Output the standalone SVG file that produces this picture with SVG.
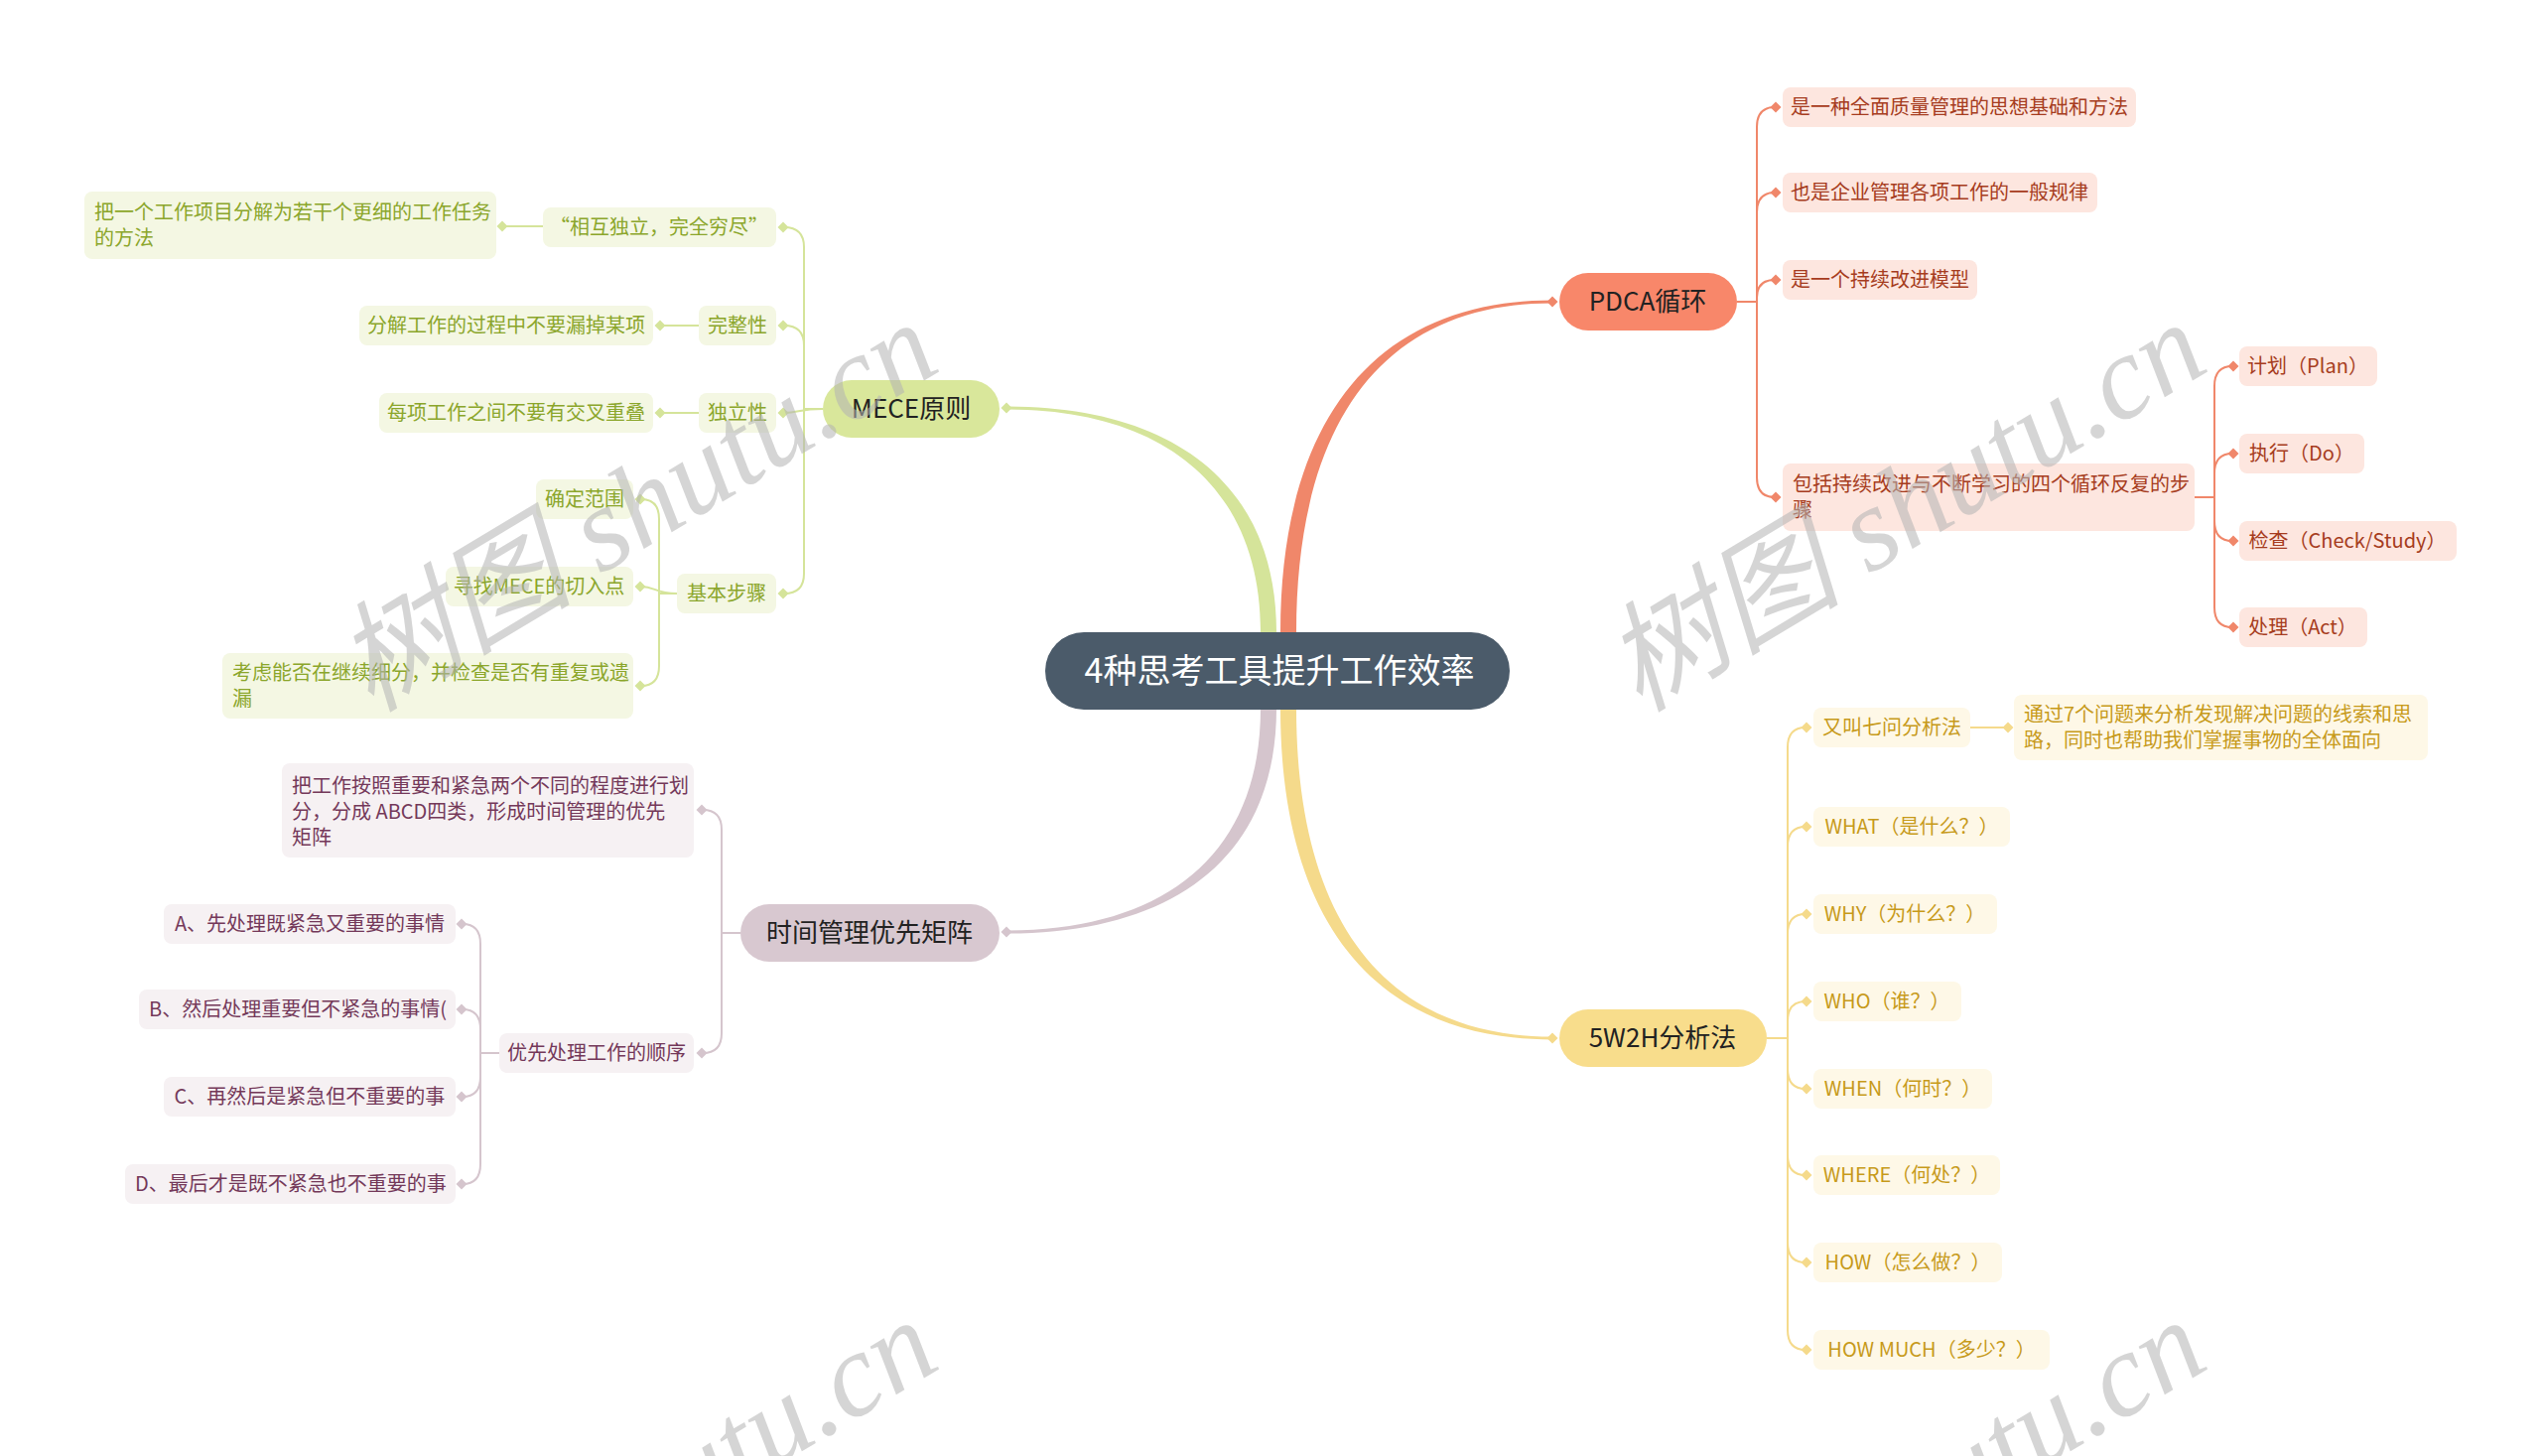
<svg xmlns="http://www.w3.org/2000/svg" width="2560" height="1467" viewBox="0 0 2560 1467">
<style>
text{font-family:"Noto Sans CJK SC","Noto Sans",sans-serif}
.t{font-size:20px}
.m{font-size:26px;fill:#222;text-anchor:middle}
.c{text-anchor:middle}
.ln{fill:none;stroke-width:2}
.gL{stroke:#d5e49a}.gF{fill:#d5e49a}.gB{fill:#f4f7e3}.gT{fill:#8ba62b}
.oL{stroke:#f0876a}.oF{fill:#f0876a}.oB{fill:#fde6df}.oT{fill:#a63c20}
.yL{stroke:#f5da8b}.yF{fill:#f5da8b}.yB{fill:#fef8e7}.yT{fill:#c79a1a}
.pL{stroke:#d5c5cd}.pF{fill:#d5c5cd}.pB{fill:#f6f1f3}.pT{fill:#74395a}
.wm{font-family:"Liberation Serif","Noto Sans CJK SC",serif;font-style:italic;font-size:120px;fill:#b4b4b4;opacity:0.55}
</style>
<defs>
<path id="dm" d="M0 -5.5 L5.5 0 L0 5.5 L-5.5 0Z"/>
</defs>
<rect width="2560" height="1467" fill="#ffffff"/>

<g id="connectors">
<!-- main branches -->
<path class="gF" d="M1270 676 L1270 637 C1270 490 1172 412.5 1014 412.5 L1014 409.5 C1180 409.5 1286 486 1286 637 L1286 676 Z"/>
<path class="oF" d="M1290 676 L1290 637 C1290 425 1384 302.5 1564 302.5 L1564 305.5 C1392 305.5 1306 427 1306 637 L1306 676 Z"/>
<path class="pF" d="M1270 676 L1270 714 C1270 862 1172 937.5 1014 937.5 L1014 940.5 C1180 940.5 1286 866 1286 714 L1286 676 Z"/>
<path class="yF" d="M1290 676 L1290 714 C1290 927 1384 1047.5 1564 1047.5 L1564 1044.5 C1392 1044.5 1306 923 1306 714 L1306 676 Z"/>
<use href="#dm" x="1014" y="411" class="gF"/>
<use href="#dm" x="1564" y="304" class="oF"/>
<use href="#dm" x="1014" y="939" class="pF"/>
<use href="#dm" x="1564" y="1046" class="yF"/>

<!-- MECE -->
<path class="ln gL" d="M829 412 H810 V249 Q810 229 790 229"/>
<path class="ln gL" d="M829 412 H810 V348 Q810 328 790 328"/>
<path class="ln gL" d="M829 412 C805 412 805 416 790 416"/>
<path class="ln gL" d="M829 412 H810 V578 Q810 598 790 598"/>
<use href="#dm" x="789" y="229" class="gF"/>
<use href="#dm" x="789" y="328" class="gF"/>
<use href="#dm" x="789" y="416" class="gF"/>
<use href="#dm" x="789" y="598" class="gF"/>
<path class="ln gL" d="M547 228 H508"/>
<use href="#dm" x="506" y="228" class="gF"/>
<path class="ln gL" d="M704 328 H667"/>
<use href="#dm" x="665" y="328" class="gF"/>
<path class="ln gL" d="M704 416 H667"/>
<use href="#dm" x="665" y="416" class="gF"/>
<path class="ln gL" d="M682 598 H664 V523 Q664 503 646 503"/>
<path class="ln gL" d="M682 598 C660 598 660 591 646 591"/>
<path class="ln gL" d="M682 598 H664 V671 Q664 691 646 691"/>
<use href="#dm" x="645" y="503" class="gF"/>
<use href="#dm" x="645" y="591" class="gF"/>
<use href="#dm" x="645" y="691" class="gF"/>

<!-- Time -->
<path class="ln pL" d="M746 940 H727 V836 Q727 816 708 816"/>
<path class="ln pL" d="M746 940 H727 V1041 Q727 1061 708 1061"/>
<use href="#dm" x="707" y="816" class="pF"/>
<use href="#dm" x="707" y="1061" class="pF"/>
<path class="ln pL" d="M503 1061 H484 V951 Q484 931 466 931"/>
<path class="ln pL" d="M503 1061 H484 V1037 Q484 1017 466 1017"/>
<path class="ln pL" d="M503 1061 H484 V1085 Q484 1105 466 1105"/>
<path class="ln pL" d="M503 1061 H484 V1173 Q484 1193 466 1193"/>
<use href="#dm" x="465" y="931" class="pF"/>
<use href="#dm" x="465" y="1017" class="pF"/>
<use href="#dm" x="465" y="1105" class="pF"/>
<use href="#dm" x="465" y="1193" class="pF"/>

<!-- PDCA -->
<path class="ln oL" d="M1750 304 H1770 V128 Q1770 108 1788 108"/>
<path class="ln oL" d="M1750 304 H1770 V214 Q1770 194 1788 194"/>
<path class="ln oL" d="M1750 304 H1770 V300 Q1770 282 1788 282"/>
<path class="ln oL" d="M1750 304 H1770 V481 Q1770 501 1788 501"/>
<use href="#dm" x="1789" y="108" class="oF"/>
<use href="#dm" x="1789" y="194" class="oF"/>
<use href="#dm" x="1789" y="282" class="oF"/>
<use href="#dm" x="1789" y="501" class="oF"/>
<path class="ln oL" d="M2211 501 H2231 V389 Q2231 369 2249 369"/>
<path class="ln oL" d="M2211 501 H2231 V477 Q2231 457 2249 457"/>
<path class="ln oL" d="M2211 501 H2231 V525 Q2231 545 2249 545"/>
<path class="ln oL" d="M2211 501 H2231 V612 Q2231 632 2249 632"/>
<use href="#dm" x="2250" y="369" class="oF"/>
<use href="#dm" x="2250" y="457" class="oF"/>
<use href="#dm" x="2250" y="545" class="oF"/>
<use href="#dm" x="2250" y="632" class="oF"/>

<!-- 5W2H -->
<path class="ln yL" d="M1780 1046 H1801 V753 Q1801 733 1819 733"/>
<path class="ln yL" d="M1780 1046 H1801 V853 Q1801 833 1819 833"/>
<path class="ln yL" d="M1780 1046 H1801 V941 Q1801 921 1819 921"/>
<path class="ln yL" d="M1780 1046 H1801 V1029 Q1801 1009 1819 1009"/>
<path class="ln yL" d="M1780 1046 H1801 V1077 Q1801 1097 1819 1097"/>
<path class="ln yL" d="M1780 1046 H1801 V1164 Q1801 1184 1819 1184"/>
<path class="ln yL" d="M1780 1046 H1801 V1252 Q1801 1272 1819 1272"/>
<path class="ln yL" d="M1780 1046 H1801 V1340 Q1801 1360 1819 1360"/>
<use href="#dm" x="1820" y="733" class="yF"/>
<use href="#dm" x="1820" y="833" class="yF"/>
<use href="#dm" x="1820" y="921" class="yF"/>
<use href="#dm" x="1820" y="1009" class="yF"/>
<use href="#dm" x="1820" y="1097" class="yF"/>
<use href="#dm" x="1820" y="1184" class="yF"/>
<use href="#dm" x="1820" y="1272" class="yF"/>
<use href="#dm" x="1820" y="1360" class="yF"/>
<path class="ln yL" d="M1985 733 H2022"/>
<use href="#dm" x="2023" y="733" class="yF"/>
</g>

<!-- central -->
<g id="root">
<rect x="1053" y="637" width="468" height="78" rx="39" fill="#4b5b6a"/>
<text x="1289" y="688" class="c" style="font-size:34px;fill:#ffffff">4种思考工具提升工作效率</text>
</g>

<!-- MECE branch -->
<g id="mece">
<rect x="829" y="383" width="178" height="58" rx="29" fill="#d9e79b"/>
<text x="918" y="421" class="m">MECE原则</text>
</g>
<g id="mece-1"><rect x="547" y="209" width="235" height="40" rx="8" class="gB"/><text x="664" y="236" class="t c gT">“相互独立，完全穷尽”</text></g>
<g id="mece-1-1"><rect x="85" y="193" width="415" height="68" rx="8" class="gB"/><text x="95" y="221" class="t gT">把一个工作项目分解为若干个更细的工作任务</text><text x="95" y="247" class="t gT">的方法</text></g>
<g id="mece-2"><rect x="704" y="308" width="78" height="40" rx="8" class="gB"/><text x="743" y="335" class="t c gT">完整性</text></g>
<g id="mece-2-1"><rect x="362" y="308" width="296" height="40" rx="8" class="gB"/><text x="510" y="335" class="t c gT">分解工作的过程中不要漏掉某项</text></g>
<g id="mece-3"><rect x="704" y="396" width="78" height="40" rx="8" class="gB"/><text x="743" y="423" class="t c gT">独立性</text></g>
<g id="mece-3-1"><rect x="382" y="396" width="276" height="40" rx="8" class="gB"/><text x="520" y="423" class="t c gT">每项工作之间不要有交叉重叠</text></g>
<g id="mece-4"><rect x="682" y="578" width="100" height="40" rx="8" class="gB"/><text x="732" y="605" class="t c gT">基本步骤</text></g>
<g id="mece-4-1"><rect x="540" y="483" width="98" height="40" rx="8" class="gB"/><text x="589" y="510" class="t c gT">确定范围</text></g>
<g id="mece-4-2"><rect x="449" y="571" width="189" height="40" rx="8" class="gB"/><text x="543" y="598" class="t c gT">寻找MECE的切入点</text></g>
<g id="mece-4-3"><rect x="224" y="658" width="414" height="66" rx="8" class="gB"/><text x="234" y="685" class="t gT">考虑能否在继续细分，并检查是否有重复或遗</text><text x="234" y="711" class="t gT">漏</text></g>

<!-- Time branch -->
<g id="time">
<rect x="746" y="911" width="261" height="58" rx="29" fill="#d8c8d0"/>
<text x="876" y="949" class="m">时间管理优先矩阵</text>
</g>
<g id="time-1"><rect x="284" y="769" width="415" height="95" rx="8" class="pB"/><text x="294" y="799" class="t pT">把工作按照重要和紧急两个不同的程度进行划</text><text x="294" y="825" class="t pT">分，分成 ABCD四类，形成时间管理的优先</text><text x="294" y="851" class="t pT">矩阵</text></g>
<g id="time-2"><rect x="503" y="1041" width="196" height="40" rx="8" class="pB"/><text x="601" y="1068" class="t c pT">优先处理工作的顺序</text></g>
<g id="time-2-1"><rect x="165" y="911" width="294" height="40" rx="8" class="pB"/><text x="312" y="938" class="t c pT">A、先处理既紧急又重要的事情</text></g>
<g id="time-2-2"><rect x="140" y="997" width="319" height="40" rx="8" class="pB"/><text x="300" y="1024" class="t c pT">B、然后处理重要但不紧急的事情(</text></g>
<g id="time-2-3"><rect x="165" y="1085" width="294" height="40" rx="8" class="pB"/><text x="312" y="1112" class="t c pT">C、再然后是紧急但不重要的事</text></g>
<g id="time-2-4"><rect x="126" y="1173" width="333" height="40" rx="8" class="pB"/><text x="293" y="1200" class="t c pT">D、最后才是既不紧急也不重要的事</text></g>

<!-- PDCA branch -->
<g id="pdca">
<rect x="1571" y="275" width="179" height="58" rx="29" fill="#f8876a"/>
<text x="1660" y="313" class="m">PDCA循环</text>
</g>
<g id="pdca-1"><rect x="1796" y="88" width="356" height="40" rx="8" class="oB"/><text x="1974" y="115" class="t c oT">是一种全面质量管理的思想基础和方法</text></g>
<g id="pdca-2"><rect x="1796" y="174" width="317" height="40" rx="8" class="oB"/><text x="1954" y="201" class="t c oT">也是企业管理各项工作的一般规律</text></g>
<g id="pdca-3"><rect x="1796" y="262" width="196" height="40" rx="8" class="oB"/><text x="1894" y="289" class="t c oT">是一个持续改进模型</text></g>
<g id="pdca-4"><rect x="1796" y="467" width="415" height="68" rx="8" class="oB"/><text x="1806" y="495" class="t oT">包括持续改进与不断学习的四个循环反复的步</text><text x="1806" y="521" class="t oT">骤</text></g>
<g id="pdca-4-1"><rect x="2256" y="349" width="139" height="40" rx="8" class="oB"/><text x="2325" y="376" class="t c oT">计划（Plan）</text></g>
<g id="pdca-4-2"><rect x="2256" y="437" width="126" height="40" rx="8" class="oB"/><text x="2319" y="464" class="t c oT">执行（Do）</text></g>
<g id="pdca-4-3"><rect x="2256" y="525" width="219" height="40" rx="8" class="oB"/><text x="2365" y="552" class="t c oT">检查（Check/Study）</text></g>
<g id="pdca-4-4"><rect x="2256" y="612" width="129" height="40" rx="8" class="oB"/><text x="2320" y="639" class="t c oT">处理（Act）</text></g>

<!-- 5W2H branch -->
<g id="w5h2">
<rect x="1571" y="1017" width="209" height="58" rx="29" fill="#f8dd8c"/>
<text x="1675" y="1055" class="m">5W2H分析法</text>
</g>
<g id="w5h2-1"><rect x="1827" y="713" width="158" height="40" rx="8" class="yB"/><text x="1906" y="740" class="t c yT">又叫七问分析法</text></g>
<g id="w5h2-1-1"><rect x="2029" y="700" width="417" height="66" rx="8" class="yB"/><text x="2039" y="727" class="t yT">通过7个问题来分析发现解决问题的线索和思</text><text x="2039" y="753" class="t yT">路，同时也帮助我们掌握事物的全体面向</text></g>
<g id="w5h2-2"><rect x="1827" y="813" width="198" height="40" rx="8" class="yB"/><text x="1926" y="840" class="t c yT">WHAT（是什么？）</text></g>
<g id="w5h2-3"><rect x="1827" y="901" width="185" height="40" rx="8" class="yB"/><text x="1919" y="928" class="t c yT">WHY（为什么？）</text></g>
<g id="w5h2-4"><rect x="1827" y="989" width="149" height="40" rx="8" class="yB"/><text x="1901" y="1016" class="t c yT">WHO（谁？）</text></g>
<g id="w5h2-5"><rect x="1827" y="1077" width="180" height="40" rx="8" class="yB"/><text x="1917" y="1104" class="t c yT">WHEN（何时？）</text></g>
<g id="w5h2-6"><rect x="1827" y="1164" width="188" height="40" rx="8" class="yB"/><text x="1921" y="1191" class="t c yT">WHERE（何处？）</text></g>
<g id="w5h2-7"><rect x="1827" y="1252" width="190" height="40" rx="8" class="yB"/><text x="1922" y="1279" class="t c yT">HOW（怎么做？）</text></g>
<g id="w5h2-8"><rect x="1827" y="1340" width="238" height="40" rx="8" class="yB"/><text x="1946" y="1367" class="t c yT">HOW MUCH（多少？）</text></g>

<!-- watermarks -->
<g id="watermarks">
<text class="wm" text-anchor="middle" transform="translate(662 545) rotate(-31)">树图 shutu.cn</text>
<text class="wm" text-anchor="middle" transform="translate(1940 545) rotate(-31)">树图 shutu.cn</text>
<text class="wm" text-anchor="middle" transform="translate(662 1550) rotate(-31)">树图 shutu.cn</text>
<text class="wm" text-anchor="middle" transform="translate(1940 1550) rotate(-31)">树图 shutu.cn</text>
</g>
</svg>
